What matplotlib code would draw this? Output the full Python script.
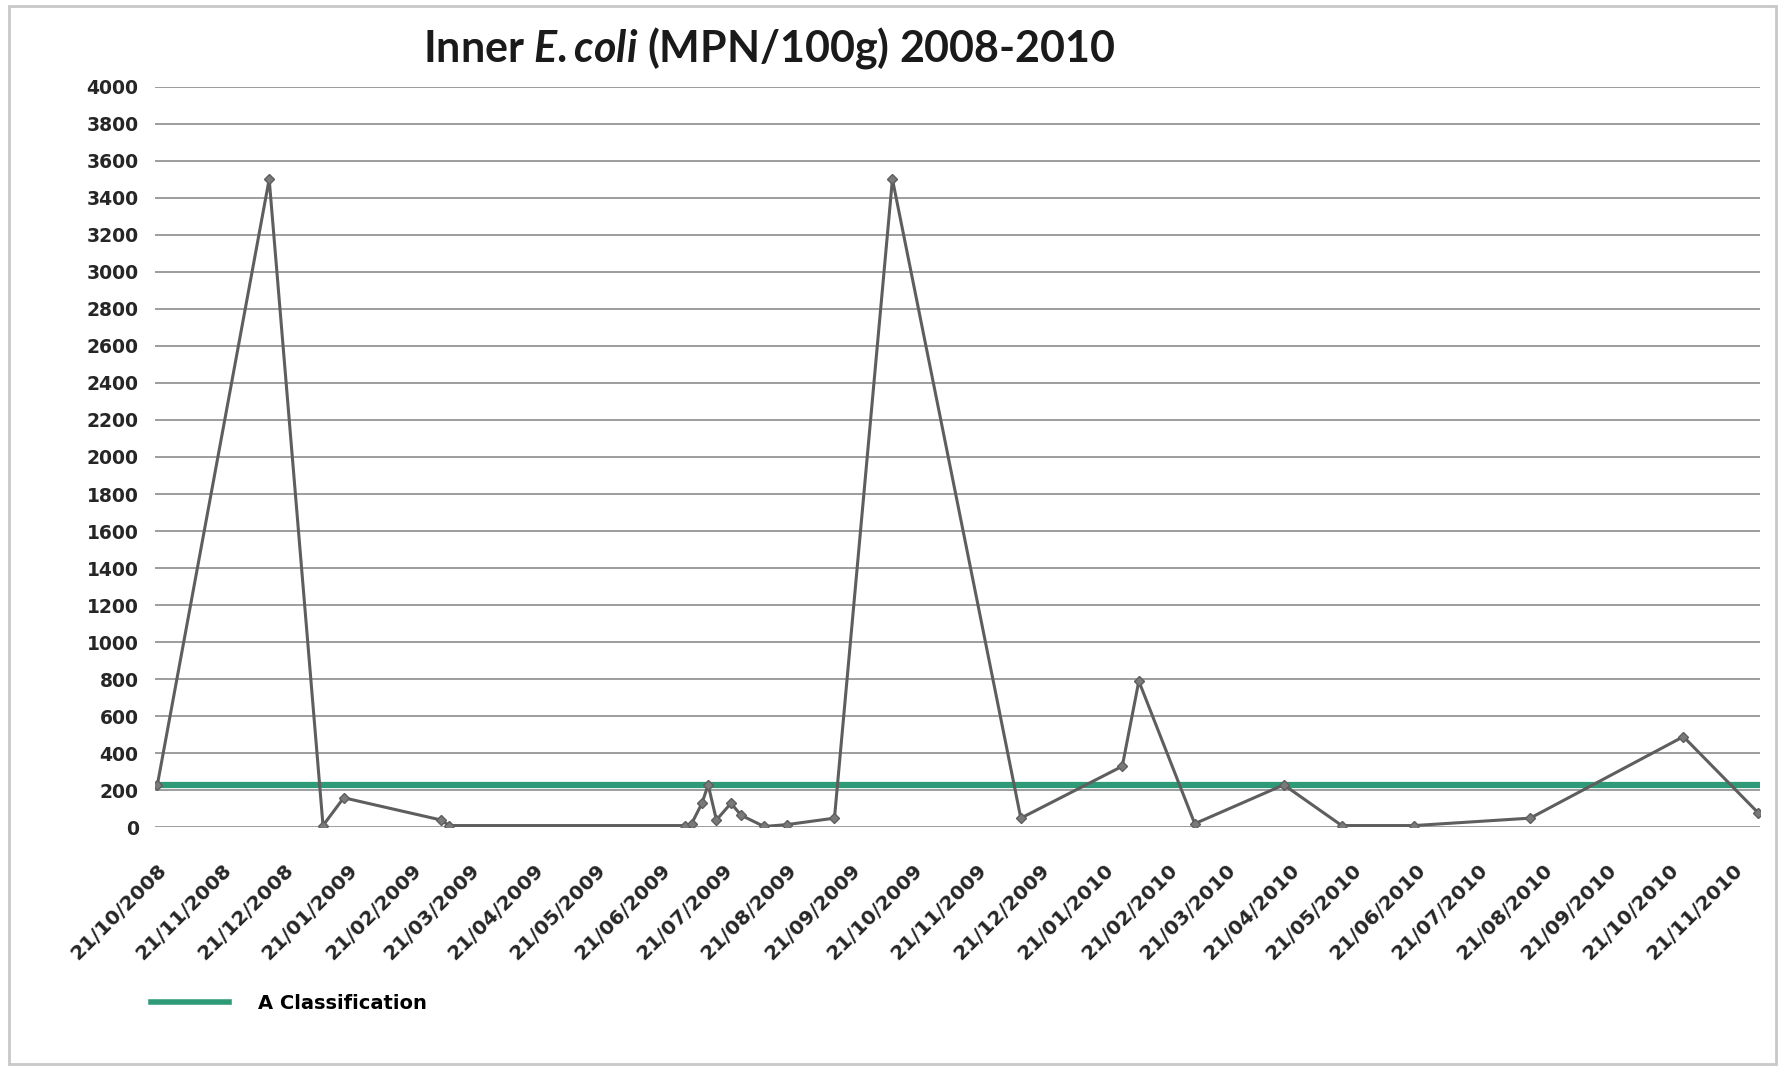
#!/usr/bin/env python

# inner E.coli results 2008-2010 with the A classification limit

import datetime as dt
from matplotlib import pyplot as plt
from matplotlib import dates as mdates
from matplotlib.lines import Line2D
from matplotlib.patches import Rectangle

plt.rcParams['font.family'] = ['Lato', 'DejaVu Sans']
plt.rcParams['mathtext.fontset'] = 'custom'
plt.rcParams['mathtext.rm'] = 'Lato:bold'
plt.rcParams['mathtext.it'] = 'Lato:italic:bold'

# sample dates and results
sample_dates = ['2008-10-21', '2008-12-14', '2009-01-09', '2009-01-19', '2009-03-07',
                '2009-03-11', '2009-07-03', '2009-07-06', '2009-07-11', '2009-07-14',
                '2009-07-18', '2009-07-25', '2009-07-30', '2009-08-10', '2009-08-21',
                '2009-09-13', '2009-10-11', '2009-12-12', '2010-01-30', '2010-02-07',
                '2010-03-06', '2010-04-18', '2010-05-16', '2010-06-20', '2010-08-15',
                '2010-10-28', '2010-12-03']
ecoli = [230, 3500, 10, 160, 40,
         10, 10, 20, 130, 230,
         40, 130, 65, 5, 15,
         50, 3500, 50, 330, 790,
         20, 230, 10, 10, 50,
         490, 80]

a_class_limit = 230
legend_label = 'A Classification'
title = r'Inner $E.coli$ (MPN/100g) 2008-2010'

dates = [dt.datetime.strptime(d, '%Y-%m-%d') for d in sample_dates]
# monthly ticks on the 21st
ticks = []
y, m = 2008, 10
while (y, m) <= (2010, 11):
    ticks.append(dt.datetime(y, m, 21))
    m += 1
    if m > 12:
        m = 1
        y += 1

fig = plt.figure(figsize=(17.85, 10.69), dpi=100)
ax = fig.add_axes([0.087, 0.226, 0.899, 0.693])

ax.set_ylim(0, 4000)
ax.set_yticks(range(0, 4001, 200))
ax.yaxis.grid(True, color='#8c8c8c', linewidth=1.2)
ax.set_axisbelow(True)

ax.plot(dates, ecoli, color='#5e5e5e', linewidth=2.2, marker='D', markersize=5.5,
        markerfacecolor='#7a7a7a', markeredgecolor='#5e5e5e', zorder=3)
ax.axhline(a_class_limit, color='#2f9a78', linewidth=4.5, zorder=2)

ax.set_xlim(dates[0] - dt.timedelta(days=1), dates[-1] + dt.timedelta(days=1))
ax.set_xticks(ticks)
ax.xaxis.set_major_formatter(mdates.DateFormatter('%d/%m/%Y'))

tick_font = {'family': 'DejaVu Sans', 'weight': 'bold'}
for lab in ax.get_xticklabels():
    lab.set(rotation=45, ha='right', rotation_mode='anchor', fontsize=14.5, **tick_font)
for lab in ax.get_yticklabels():
    lab.set(fontsize=13.5, **tick_font)

ax.tick_params(axis='both', length=0, colors='#262626')
ax.tick_params(axis='x', pad=24)
ax.tick_params(axis='y', pad=12)
for s in ax.spines.values():
    s.set_visible(False)

fig.text(0.431, 0.955, title, fontsize=31, fontweight='bold', ha='center', va='center',
         color='#1a1a1a')

handle = Line2D([], [], color='#2f9a78', linewidth=4)
fig.legend([handle], [legend_label], loc='center left', bbox_to_anchor=(0.075, 0.061),
           frameon=False, handlelength=4, handletextpad=1.5,
           prop={'family': 'DejaVu Sans', 'weight': 'bold', 'size': 14})

# light frame round the whole chart
fig.patches.append(Rectangle((0.005, 0.005), 0.99, 0.989, transform=fig.transFigure,
                             fill=False, edgecolor='#c8c8c8', linewidth=2))

plt.savefig('out.png', dpi=100)
